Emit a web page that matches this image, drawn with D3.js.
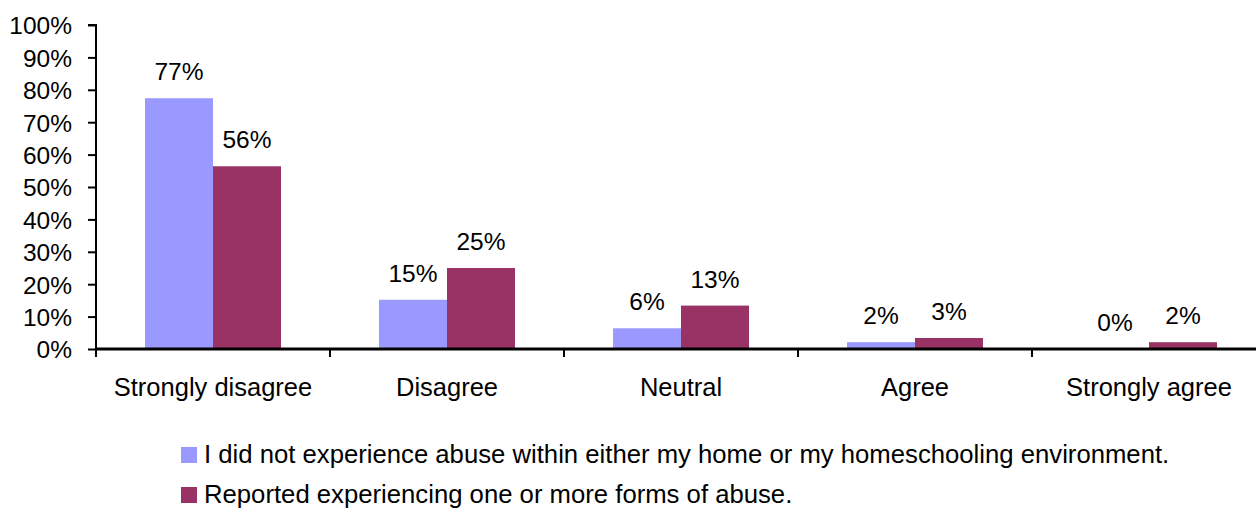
<!DOCTYPE html>
<html><head><meta charset="utf-8">
<script src="https://cdn.jsdelivr.net/npm/d3@7"></script>
<style>body{margin:0;background:#fff}svg{display:block;font-family:"Liberation Sans",Arial,sans-serif}</style>
</head><body><svg id="c" width="1256" height="510"></svg>
<script>
const categories = ["Strongly disagree","Disagree","Neutral","Agree","Strongly agree"];
const seriesNames = ["I did not experience abuse within either my home or my homeschooling environment.","Reported experiencing one or more forms of abuse."];
const noAbuse = [77.4, 15.2, 6.4, 2.1, 0.0];
const abuse = [56.4, 25.0, 13.4, 3.4, 2.1];
const yTicks = [0,10,20,30,40,50,60,70,80,90,100];
const colors = ["#9999FF","#993366"];

const svg = d3.select("#c");
const x0 = 96, x1 = 96 + 234*5, yB = 349, yT = 25;
const x = d3.scaleBand().domain(categories).range([x0, x1]).paddingInner(0).paddingOuter(0);
const y = d3.scaleLinear().domain([0,100]).range([yB, yT]);
const inner = d3.scaleBand().domain([0,1]).range([49, 234-49]);
const series = [noAbuse, abuse];

// bars
series.forEach((vals, si) => {
  const g = svg.append("g");
  g.selectAll("rect").data(categories).join("rect")
    .attr("x", c => x(c) + inner(si))
    .attr("width", inner.bandwidth())
    .attr("y", (c,i) => y(vals[i]))
    .attr("height", (c,i) => yB - y(vals[i]))
    .attr("fill", colors[si]);
  g.selectAll("text").data(categories).join("text")
    .attr("x", c => x(c) + inner(si) + inner.bandwidth()/2)
    .attr("y", (c,i) => y(vals[i]) - 18)
    .attr("text-anchor","middle")
    .attr("font-size", 24.5)
    .text((c,i) => Math.round(vals[i]) + "%");
});

// y axis
const ya = d3.axisLeft(y).tickValues(yTicks).tickSize(8).tickFormat(d => d + "%");
const yg = svg.append("g").attr("transform", `translate(${x0},0)`).call(ya);
yg.select(".domain").attr("stroke","#000").attr("stroke-width",2).attr("d", `M-8,${yT}H0V${yB}`);
yg.selectAll(".tick line").attr("stroke","#000").attr("stroke-width",2);
yg.selectAll(".tick text").attr("font-size",24.5).attr("font-family","Liberation Sans, Arial, sans-serif").attr("fill","#000").attr("x",-24).attr("dy","0.36em");

// x axis
const xg = svg.append("g");
xg.append("line").attr("x1", x0).attr("x2", x1).attr("y1", yB).attr("y2", yB).attr("stroke","#000").attr("stroke-width",3);
const bounds = categories.map(c => x(c)).concat([x1]);
xg.selectAll("line.t").data(bounds).join("line").attr("class","t")
  .attr("x1", d => d).attr("x2", d => d).attr("y1", yB).attr("y2", yB + 8)
  .attr("stroke","#000").attr("stroke-width",2);
xg.selectAll("text").data(categories).join("text")
  .attr("x", c => x(c) + x.bandwidth()/2).attr("y", 396)
  .attr("text-anchor","middle").attr("font-size",25.5).text(c => c);

// legend
const lg = svg.append("g");
seriesNames.forEach((n, i) => {
  const base = 463 + i*40;
  lg.append("rect").attr("x",181).attr("y",base-16).attr("width",16).attr("height",16).attr("fill",colors[i]);
  lg.append("text").attr("x",204).attr("y",base).attr("font-size",25.7).text(n);
});
</script></body></html>
